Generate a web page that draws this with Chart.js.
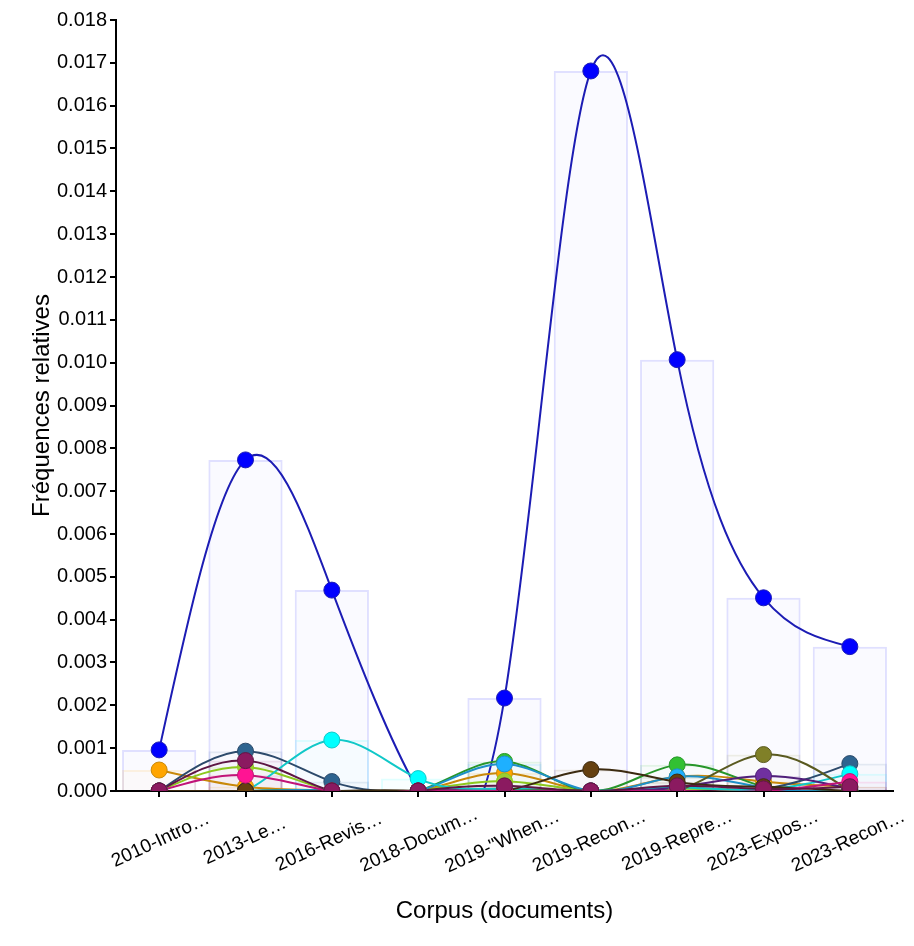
<!DOCTYPE html>
<html><head><meta charset="utf-8">
<script src="https://cdn.jsdelivr.net/npm/chart.js@4/dist/chart.umd.min.js"></script>
<style>html,body{margin:0;padding:0;background:#fff}#wrap{width:914px;height:946px}</style>
</head><body><div id="wrap"><canvas id="c" width="914" height="946"></canvas></div>
<script>
// ---------- data ----------
const categories = ['2010-Intro…','2013-Le…','2016-Revis…','2018-Docum…','2019-"When…','2019-Recon…','2019-Repre…','2023-Expos…','2023-Recon…'];
const yMin = 0, yMax = 0.018, yStep = 0.001;

const blue        = [0.00096, 0.00773, 0.00469, 0, 0.00217, 0.01681, 0.01007, 0.00451, 0.00337];
const orange      = [0.00049, 0.00010, 0, 0, 0.00042, 0, 0.00033, 0.00022, 0.00010];
const steel       = [0, 0.00093, 0.00022, 0, 0.00005, 0, 0.00008, 0.00005, 0.00064];
const yellowgreen = [0, 0.00056, 0, 0, 0.00023, 0, 0.00005, 0, 0];
const green       = [0, 0, 0, 0, 0.00069, 0, 0.00061, 0.00010, 0];
const skyblue     = [0, 0, 0, 0, 0.00063, 0, 0.00033, 0.00008, 0];
const cyan        = [0, 0, 0.00119, 0.00029, 0.00005, 0, 0.00008, 0.00003, 0.00040];
const olive       = [0, 0, 0, 0, 0, 0, 0, 0.00085, 0];
const purple      = [0, 0, 0, 0, 0, 0, 0.00008, 0.00035, 0.00005];
const darkbrown   = [0, 0, 0, 0, 0, 0.00050, 0.00021, 0.00010, 0];
const pink        = [0, 0.00037, 0, 0, 0, 0, 0, 0, 0.00022];
const maroon      = [0, 0.00071, 0, 0, 0.00012, 0, 0.00012, 0.00005, 0.00010];

// bottom -> top drawing order
const series = [
  {values: blue,        point: '#0000ff', line: '#1c1cb4'},
  {values: orange,      point: '#ffa500', line: '#c8880a'},
  {values: steel,       point: '#2e6490', line: '#2c4a6b'},
  {values: yellowgreen, point: '#9acd32', line: '#8cc81e'},
  {values: green,       point: '#32c032', line: '#27962a'},
  {values: skyblue,     point: '#1eb0ff', line: '#1e90c8'},
  {values: cyan,        point: '#00ffff', line: '#10c8c8'},
  {values: olive,       point: '#808028', line: '#5a5a20'},
  {values: purple,      point: '#7030a0', line: '#50207a'},
  {values: darkbrown,   point: '#654010', line: '#3c2a10'},
  {values: pink,        point: '#ff1493', line: '#c01478'},
  {values: maroon,      point: '#8b1a60', line: '#5e1644'}
];

// ---------- helpers ----------
const FONT = "'Liberation Sans', Arial, sans-serif";
const YTICK_SIZE = 20, XTICK_SIZE = 19, TITLE_SIZE = 24, ROT = 25;
function hexA(hex, a){const n=parseInt(hex.slice(1),16);return `rgba(${n>>16},${(n>>8)&255},${n&255},${a})`;}

// pad labels so the visible text is centred on the tick when rotated
const mctx = document.createElement('canvas').getContext('2d');
mctx.font = `${XTICK_SIZE}px ${FONT}`;
const widths = categories.map(c => mctx.measureText(c).width);
const spaceW = mctx.measureText(' ').width;
const halfMax = Math.max(...widths) / 2 + 2;
const paddedLabels = categories.map((c, i) => c + ' '.repeat(Math.max(0, Math.round((halfMax - widths[i] / 2) / spaceW))));
const lh = XTICK_SIZE * 1.2;
const rad = ROT * Math.PI / 180;
const LABEL_OFFSET = Math.cos(rad) * halfMax - Math.sin(rad) * lh / 2 + 4;

// natural cubic spline (like d3.curveNatural) control points
function ctrl(x){
  const n = x.length - 1; const a = new Array(n), b = new Array(n), r = new Array(n);
  a[0]=0; b[0]=2; r[0]=x[0]+2*x[1];
  for (let i=1;i<n-1;++i){a[i]=1;b[i]=4;r[i]=4*x[i]+2*x[i+1];}
  a[n-1]=2; b[n-1]=7; r[n-1]=8*x[n-1]+x[n];
  for (let i=1;i<n;++i){const m=a[i]/b[i-1]; b[i]-=m; r[i]-=m*r[i-1];}
  a[n-1]=r[n-1]/b[n-1];
  for (let i=n-2;i>=0;--i) a[i]=(r[i]-a[i+1])/b[i];
  b[n-1]=(x[n]+a[n-1])/2;
  for (let i=0;i<n-1;++i) b[i]=2*x[i+1]-a[i+1];
  return [a,b];
}
const naturalCurve = {
  id: 'naturalCurve',
  beforeDatasetDraw(chart, args){
    const ds = chart.data.datasets[args.index];
    if (!ds.natural) return;
    const meta = args.meta, line = meta.dataset;
    if (line.updateControlPoints) line.updateControlPoints(chart.chartArea, 'x');
    const pts = meta.data;
    const [ax,bx] = ctrl(pts.map(p=>p.x)), [ay,by] = ctrl(pts.map(p=>p.y));
    for (let i=0;i<pts.length-1;i++){
      pts[i].cp2x=ax[i]; pts[i].cp2y=ay[i];
      pts[i+1].cp1x=bx[i]; pts[i+1].cp1y=by[i];
    }
    line._pointsUpdated = true;
    line._path = undefined;
  }
};

// ---------- datasets ----------
const datasets = [];
series.forEach((s, i) => {
  datasets.push({type:'bar', data:s.values, backgroundColor:hexA(s.point,0.02), borderColor:hexA(s.point,0.12), borderWidth:2, grouped:false, order:300-i, categoryPercentage:1, barPercentage:0.86});
  datasets.push({type:'line', natural:true, data:s.values, borderColor:s.line, borderWidth:2, tension:0.4, pointRadius:0, pointHoverRadius:0, fill:false, clip:0, order:200-i});
  datasets.push({type:'line', data:s.values, showLine:false, pointRadius:8, pointHoverRadius:8, pointBackgroundColor:s.point, pointBorderColor:s.line, pointBorderWidth:1, clip:0, order:100-i});
});

new Chart(document.getElementById('c'), {
  type: 'bar',
  data: {labels: paddedLabels, datasets},
  plugins: [naturalCurve],
  options: {
    responsive:false, animation:false, events:[],
    layout:{padding:{top:20,right:21,left:0,bottom:0}},
    plugins:{legend:{display:false}, tooltip:{enabled:false}},
    scales:{
      x:{
        offset:true,
        afterFit(scale){scale.height=155;},
        grid:{offset:false, drawOnChartArea:false, drawTicks:true, tickLength:6, color:'#000', lineWidth:2},
        border:{display:true, color:'#000', width:2},
        ticks:{autoSkip:false, minRotation:ROT, maxRotation:ROT, color:'#000', padding:6, labelOffset:LABEL_OFFSET, font:{family:FONT,size:XTICK_SIZE}},
        title:{display:true, text:'Corpus (documents)', color:'#000', font:{family:FONT,size:TITLE_SIZE}, padding:{top:0,bottom:20}}
      },
      y:{
        min:yMin, max:yMax,
        afterFit(scale){scale.width=116;},
        grid:{drawOnChartArea:false, drawTicks:true, tickLength:6, color:'#000', lineWidth:2},
        border:{display:true, color:'#000', width:2},
        ticks:{stepSize:yStep, color:'#000', padding:3, font:{family:FONT,size:YTICK_SIZE}, callback:v=>Number(v).toFixed(3)},
        title:{display:true, text:'Fréquences relatives', color:'#000', font:{family:FONT,size:TITLE_SIZE}, padding:{top:28,bottom:0}}
      }
    }
  }
});
</script>
</body></html>
